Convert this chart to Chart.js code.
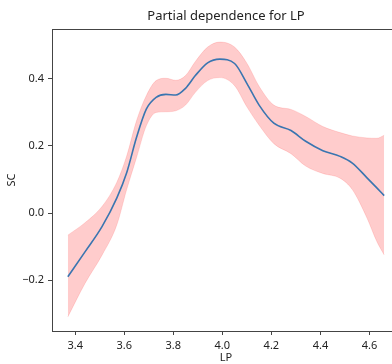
<!DOCTYPE html>
<html>
<head>
<meta charset="utf-8">
<script src="https://cdn.jsdelivr.net/npm/chart.js@4"></script>
<style>
  html, body { margin: 0; padding: 0; background: #fff; overflow: hidden; }
  #wrap { width: 452px; height: 364px; }
</style>
</head>
<body>
<div id="wrap"><canvas id="pd" width="452" height="364"></canvas></div>
<script>
// Partial dependence values
const lpValues = [3.37, 3.44, 3.51, 3.57, 3.61, 3.65, 3.69, 3.73, 3.77, 3.81, 3.85, 3.89, 3.94,
                  3.99, 4.05, 4.10, 4.15, 4.21, 4.28, 4.34, 4.41, 4.48, 4.53, 4.59, 4.63, 4.66];
const meanSC = [-0.19, -0.116, -0.04, 0.045, 0.12, 0.225, 0.31, 0.345, 0.354, 0.352, 0.372, 0.41, 0.448,
                0.459, 0.446, 0.387, 0.322, 0.268, 0.246, 0.214, 0.186, 0.169, 0.149, 0.105, 0.075, 0.052];
const upperSC = [-0.066, -0.029, 0.02, 0.092, 0.17, 0.275, 0.35, 0.395, 0.402, 0.396, 0.41, 0.452, 0.495,
                 0.51, 0.495, 0.447, 0.378, 0.322, 0.309, 0.288, 0.258, 0.24, 0.23, 0.224, 0.223, 0.232];
const lowerSC = [-0.31, -0.21, -0.125, -0.035, 0.07, 0.165, 0.26, 0.3, 0.302, 0.305, 0.322, 0.36, 0.395,
                 0.404, 0.38, 0.317, 0.262, 0.207, 0.177, 0.14, 0.118, 0.104, 0.07, -0.015, -0.085, -0.125];
const xTicks = [3.4, 3.6, 3.8, 4.0, 4.2, 4.4, 4.6];
const yTicks = [-0.2, 0.0, 0.2, 0.4];

const toPts = ys => lpValues.map((x, i) => ({ x: x, y: ys[i] }));
const font = { family: "'Noto Sans', sans-serif", size: 11 };
const axisColor = '#444';
const textColor = '#222';

// matplotlib style box around the plot area
const frame = {
    id: 'frame',
    afterDraw(chart) {
        const a = chart.chartArea, c = chart.ctx;
        c.save();
        c.strokeStyle = axisColor;
        c.lineWidth = 1;
        c.strokeRect(a.left + 0.5, a.top + 0.5, a.right - a.left, a.bottom - a.top);
        c.restore();
    }
};

new Chart(document.getElementById('pd').getContext('2d'), {
    type: 'line',
    data: {
        datasets: [
            {
                label: 'mean',
                data: toPts(meanSC),
                borderColor: '#3a75b0',
                borderWidth: 1.6,
                pointRadius: 0,
                fill: false,
                order: 0,
                cubicInterpolationMode: 'monotone'
            },
            {
                label: 'upper',
                data: toPts(upperSC),
                borderColor: 'rgba(255, 0, 0, 0.12)',
                backgroundColor: 'rgba(255, 0, 0, 0.2)',
                borderWidth: 1,
                pointRadius: 0,
                fill: '+1',
                order: 1,
                cubicInterpolationMode: 'monotone'
            },
            {
                label: 'lower',
                data: toPts(lowerSC),
                borderColor: 'rgba(255, 0, 0, 0.12)',
                borderWidth: 1,
                pointRadius: 0,
                fill: false,
                order: 1,
                cubicInterpolationMode: 'monotone'
            }
        ]
    },
    options: {
        responsive: false,
        animation: false,
        layout: { padding: { left: 0, right: 52, top: 0, bottom: 0 } },
        plugins: {
            legend: { display: false },
            tooltip: { enabled: false },
            filler: { drawTime: 'beforeDatasetsDraw' },
            title: {
                display: true,
                fullSize: false,
                text: 'Partial dependence for LP',
                color: textColor,
                font: { family: "'Noto Sans', sans-serif", size: 13, weight: 'normal' },
                padding: { top: 8.2, bottom: 5.2 }
            }
        },
        scales: {
            x: {
                type: 'linear',
                min: 3.3055,
                max: 4.7245,
                afterBuildTicks: s => { s.ticks = xTicks.map(v => ({ value: v })); },
                afterFit: s => { s.height = 33; },
                grid: { drawOnChartArea: false, drawTicks: true, tickLength: 4, color: axisColor },
                border: { display: true, color: axisColor },
                ticks: { font: font, color: textColor, padding: 4, maxRotation: 0,
                         callback: v => v.toFixed(1) },
                title: { display: true, text: 'LP', font: font, color: textColor, padding: { top: 0, bottom: 0 } }
            },
            y: {
                type: 'linear',
                min: -0.352,
                max: 0.549,
                afterBuildTicks: s => { s.ticks = yTicks.map(v => ({ value: v })); },
                afterFit: s => { s.width = 52; },
                grid: { drawOnChartArea: false, drawTicks: true, tickLength: 4, color: axisColor },
                border: { display: true, color: axisColor },
                ticks: { font: font, color: textColor, padding: 4,
                         callback: v => v.toFixed(1).replace('-', '\u2212') },
                title: { display: true, text: 'SC', font: font, color: textColor, padding: { top: 5, bottom: 0 } }
            }
        }
    },
    plugins: [frame]
});
</script>
</body>
</html>
